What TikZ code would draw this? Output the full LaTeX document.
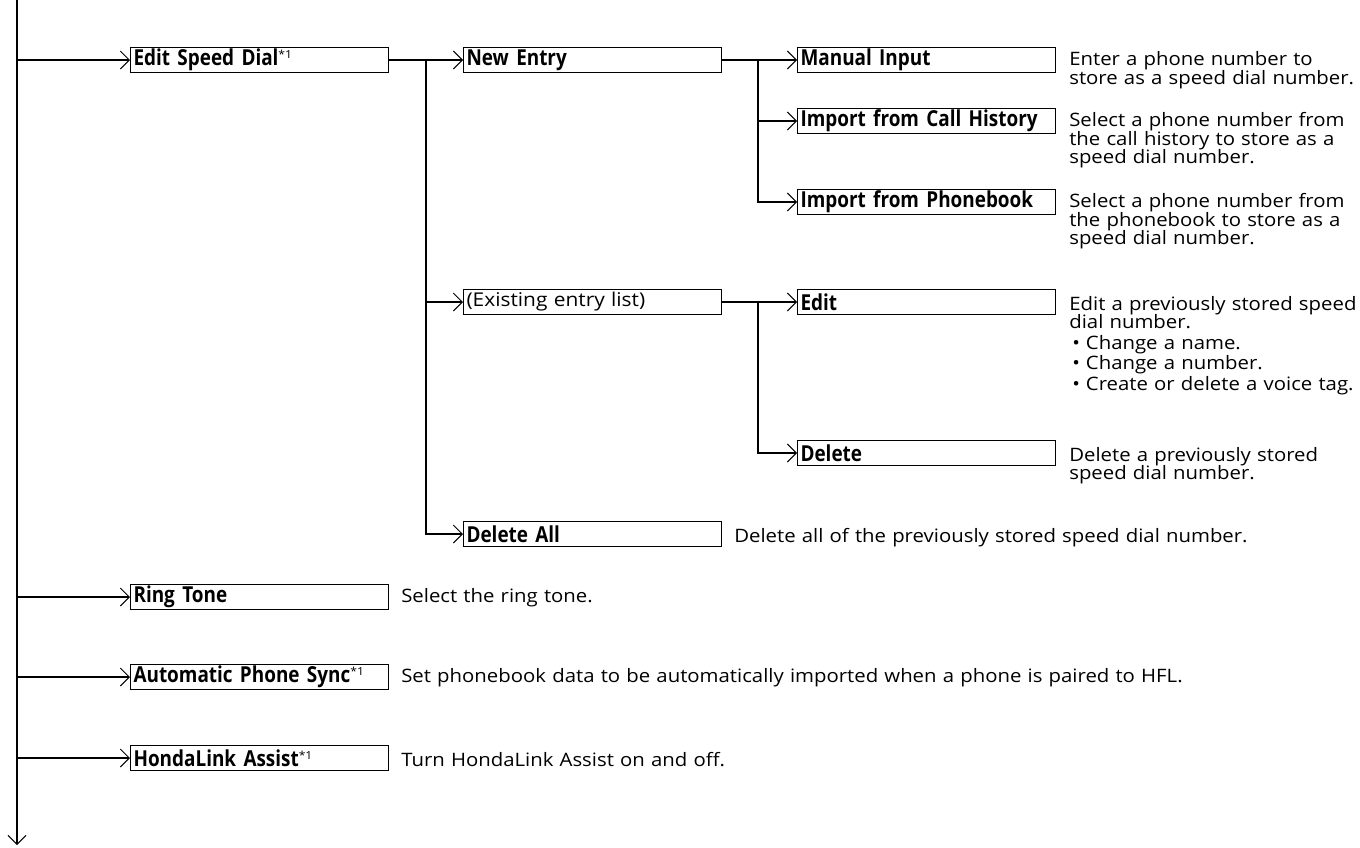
\documentclass[tikz,border=0pt]{standalone}
\usepackage{fontspec}
\setmainfont[FakeStretch=1.1]{Open Sans}
\newfontfamily\menufont[FakeStretch=0.86]{Open Sans}
\usetikzlibrary{arrows.meta,positioning,calc}

\newcommand{\noteone}{\raisebox{7pt}{\normalfont\fontsize{11}{11}\selectfont *1}}
\newcommand{\menustyle}{\fontsize{22}{22}\selectfont\menufont\bfseries}
\newcommand{\descstyle}{\fontsize{18.5}{18.5}\selectfont}
\newcommand{\bul}{\hspace*{3pt}\textbullet\hspace{6pt}}

\begin{document}
\begin{tikzpicture}[x=1pt, y=-1pt,
        >={Straight Barb[length=9pt,width=18pt,line width=1pt]},
        menu/.style={draw, line width=1.1pt, rectangle, anchor=west,
                     text width=252pt, inner xsep=3pt, inner ysep=0pt,
                     minimum height=25pt, align=left, font=\menustyle},
        desc/.style={anchor=base west, align=left, inner sep=0pt,
                     text width=300pt, font=\descstyle},
        link/.style={->, line width=1.8pt},
        trunk/.style={->, line width=1.8pt}]
    \useasboundingbox (0,0) rectangle (1360,847);
    % first level
    \node[menu] (esd)  at (130,60)  {Edit Speed Dial\noteone};
    \node[menu] (ring) at (130,597) {Ring Tone};
    \node[menu] (sync) at (130,677) {Automatic Phone Sync\noteone};
    \node[menu] (hla)  at (130,758) {HondaLink Assist\noteone};
    % second level
    \node[menu] (new)    at (463,60)  {New Entry};
    \node[menu, font=\fontsize{19}{20}\selectfont] (list) at (463,302) {(Existing entry list)};
    \node[menu] (delall) at (463,534) {Delete All};
    % third level
    \node[menu] (manual)   at (797,60)  {Manual Input};
    \node[menu] (callhist) at (797,121) {Import from Call History};
    \node[menu] (pbook)    at (797,202) {Import from Phonebook};
    \node[menu] (edit)     at (797,302) {Edit};
    \node[menu] (delete)   at (797,453) {Delete};
    % descriptions
    \node[desc] (dmanual) at ([xshift=13pt]manual.base east)
        {Enter a phone number to\\store as a speed dial number.};
    \node[desc] (dcallhist) at ([xshift=13pt]callhist.base east)
        {Select a phone number from\\the call history to store as a\\speed dial number.};
    \node[desc] (dpbook) at ([xshift=13pt]pbook.base east)
        {Select a phone number from\\the phonebook to store as a\\speed dial number.};
    \node[desc] (dedit) at ([xshift=13pt]edit.base east)
        {Edit a previously stored speed\\dial number.\\[2pt]
         \bul Change a name.\\[2pt]\bul Change a number.\\[2pt]\bul Create or delete a voice tag.};
    \node[desc] (ddelete) at ([xshift=13pt]delete.base east)
        {Delete a previously stored\\speed dial number.};
    \node[desc, text width=900pt] (ddelall) at ([xshift=12pt]delall.base east)
        {Delete all of the previously stored speed dial number.};
    \node[desc, text width=900pt] (dring) at ([xshift=12pt]ring.base east)
        {Select the ring tone.};
    \node[desc, text width=900pt] (dsync) at ([xshift=12pt]sync.base east)
        {Set phonebook data to be automatically imported when a phone is paired to HFL.};
    \node[desc, text width=900pt] (dhla) at ([xshift=12pt]hla.base east)
        {Turn HondaLink Assist on and off.};
    % trunk and branch points
    \coordinate (top)    at (17,0);
    \coordinate (bottom) at (17,845);
    \coordinate (busa)   at (426,60);
    \coordinate (busb)   at (758,60);
    \coordinate (busc)   at (758,302);
    \draw[trunk] (top) -- (bottom);
    \draw[link] (top |- esd.west)  -- (esd.west);
    \draw[link] (top |- ring.west) -- (ring.west);
    \draw[link] (top |- sync.west) -- (sync.west);
    \draw[link] (top |- hla.west)  -- (hla.west);
    \draw[link] (esd.east) -- (new.west);
    \draw[link] (busa) |- (list.west);
    \draw[link] (busa) |- (delall.west);
    \draw[link] (new.east) -- (manual.west);
    \draw[link] (busb) |- (callhist.west);
    \draw[link] (busb) |- (pbook.west);
    \draw[link] (list.east) -- (edit.west);
    \draw[link] (busc) |- (delete.west);
\end{tikzpicture}
\end{document}
